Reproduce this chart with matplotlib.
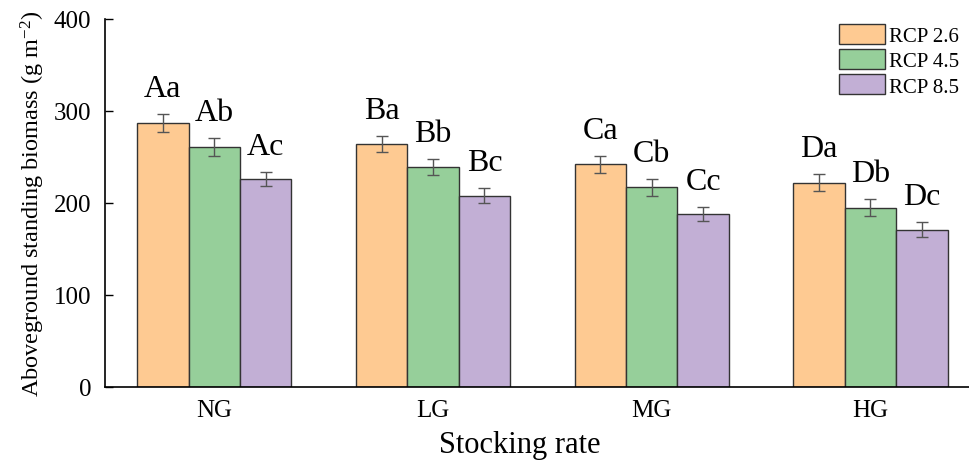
import matplotlib
matplotlib.use("Agg")
import matplotlib.pyplot as plt
import numpy as np

plt.rcParams['font.family'] = ['Liberation Serif', 'DejaVu Serif']
plt.rcParams['mathtext.fontset'] = 'custom'
plt.rcParams['mathtext.rm'] = 'Liberation Serif'
plt.rcParams['mathtext.it'] = 'Liberation Serif:italic'

categories = ["NG", "LG", "MG", "HG"]
series_names = ["RCP 2.6", "RCP 4.5", "RCP 8.5"]
rcp26 = [287, 264, 242, 222]
rcp45 = [261, 239, 217, 195]
rcp85 = [226, 208, 188, 171]
err26 = [10, 9, 9, 9]
err45 = [10, 9, 9, 9]
err85 = [8, 8, 8, 8]
letters26 = ["Aa", "Ba", "Ca", "Da"]
letters45 = ["Ab", "Bb", "Cb", "Db"]
letters85 = ["Ac", "Bc", "Cc", "Dc"]

colors = ["#FECA92", "#96CF9A", "#C2AFD5"]

fig = plt.figure(figsize=(9.7, 4.64), dpi=100)
ax = fig.add_axes([0.1082, 0.1638, 0.8918, 0.7931])

x = np.arange(len(categories))
w = 0.235
vals = [rcp26, rcp45, rcp85]
errs = [err26, err45, err85]
lets = [letters26, letters45, letters85]
for i in range(3):
    pos = x + (i - 1) * w
    ax.bar(pos, vals[i], width=w, color=colors[i], edgecolor="#333333",
           linewidth=1.0, label=series_names[i], zorder=2)
    ax.errorbar(pos, vals[i], yerr=errs[i], fmt="none", ecolor="#555555",
                elinewidth=1.0, capsize=4, capthick=1.0, zorder=3)
    for p, v, e, t in zip(pos, vals[i], errs[i], lets[i]):
        ax.text(p, v + e + 12, t, ha="center", va="bottom", fontsize=23)

ax.set_xlim(-0.5, 3.455)
ax.set_ylim(0, 400)
ax.set_yticks([0, 100, 200, 300, 400])
ax.set_xticks(x)
ax.set_xticklabels(categories)
ax.tick_params(axis="y", direction="in", length=6, width=1, labelsize=18, pad=10)
ax.tick_params(axis="x", length=0, labelsize=18, pad=9)
for s in ["top", "right"]:
    ax.spines[s].set_visible(False)
for s in ["left", "bottom"]:
    ax.spines[s].set_linewidth(1.2)

ax.set_ylabel("Aboveground standing biomass (g m$^{\\mathrm{-2}}$)", fontsize=17.5)
ax.set_xlabel("Stocking rate", fontsize=22)
ax.xaxis.label.set_va("baseline")
ax.xaxis.set_label_coords(0.48, -0.1766)
ax.yaxis.set_label_coords(-0.067, 0.5)

leg = ax.legend(loc="upper right", bbox_to_anchor=(1.004, 1.026), frameon=False,
                fontsize=15, handlelength=2.2, handleheight=1.1,
                labelspacing=0.15, handletextpad=0.2, borderaxespad=0.3)
for h in leg.legend_handles:
    h.set_edgecolor("#333333")

fig.savefig("out.png", dpi=100)
